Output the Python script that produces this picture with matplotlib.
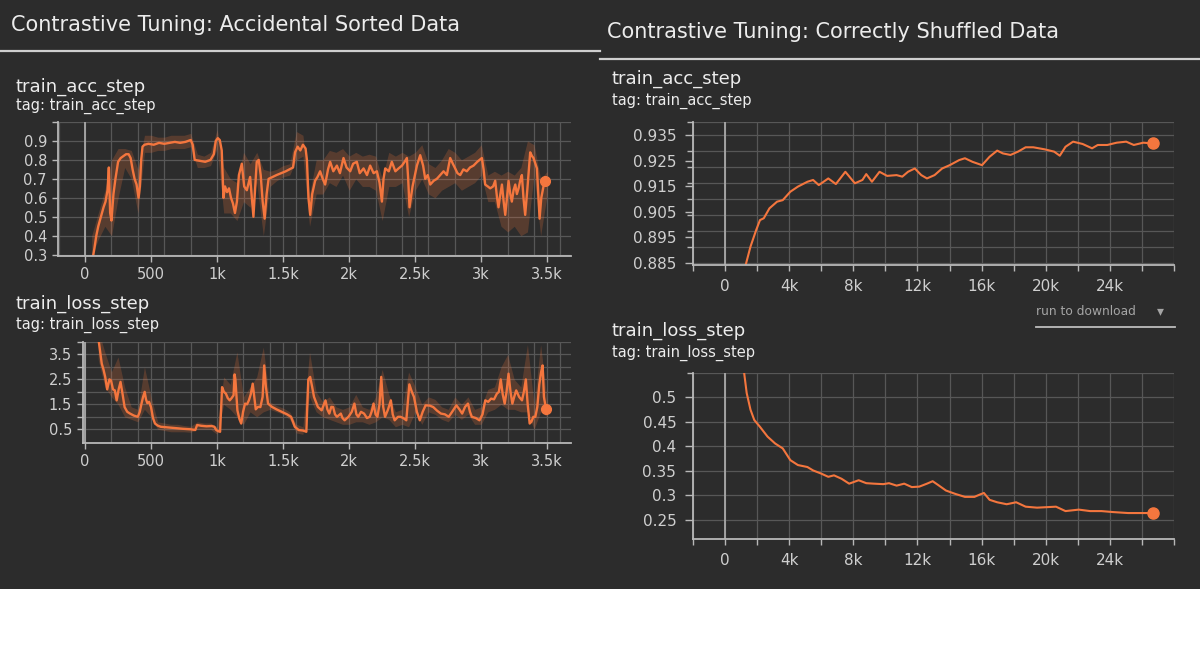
import matplotlib
matplotlib.use("Agg")
import matplotlib.pyplot as plt
from matplotlib.patches import Rectangle
from matplotlib.lines import Line2D
import numpy as np

# ---------------- data ----------------
left_x_ticks = [0, 500, 1000, 1500, 2000, 2500, 3000, 3500]
left_x_labels = ['0', '500', '1k', '1.5k', '2k', '2.5k', '3k', '3.5k']
right_x_ticks = [0, 4000, 8000, 12000, 16000, 20000, 24000]
right_x_labels = ['0', '4k', '8k', '12k', '16k', '20k', '24k']

acc_sorted_yticks = [0.3, 0.4, 0.5, 0.6, 0.7, 0.8, 0.9]
acc_sorted_ylabels = ['0.3', '0.4', '0.5', '0.6', '0.7', '0.8', '0.9']
loss_sorted_yticks = [0.5, 1.5, 2.5, 3.5]
loss_sorted_ylabels = ['0.5', '1.5', '2.5', '3.5']
acc_shuf_yticks = [0.885, 0.895, 0.905, 0.915, 0.925, 0.935]
acc_shuf_ylabels = ['0.885', '0.895', '0.905', '0.915', '0.925', '0.935']
loss_shuf_yticks = [0.25, 0.30, 0.35, 0.40, 0.45, 0.50]
loss_shuf_ylabels = ['0.25', '0.3', '0.35', '0.4', '0.45', '0.5']

# Accidental sorted data: train_acc_step (smoothed)
acc_sorted_steps = [55, 70, 85, 100, 120, 140, 155, 170, 180, 190, 200, 215, 230, 250, 270, 290, 310, 330,
                    345, 360, 375, 390, 405, 415, 425, 435, 450, 480, 520, 560, 600, 640, 680, 720, 760, 800,
                    815, 830, 870, 910, 950, 975, 990, 1005, 1020, 1035, 1048, 1060, 1075, 1090, 1105, 1120,
                    1135, 1150, 1165, 1187, 1205, 1225, 1250, 1275, 1300, 1315, 1330, 1345, 1360, 1375, 1390,
                    1450, 1520, 1575, 1590, 1610, 1630, 1650, 1670, 1680, 1692, 1705, 1720, 1742, 1760, 1780,
                    1800, 1818, 1840, 1856, 1880, 1907, 1930, 1957, 1980, 2008, 2030, 2058, 2080, 2109, 2135,
                    2159, 2185, 2210, 2230, 2248, 2260, 2273, 2300, 2323, 2350, 2374, 2400, 2420, 2437, 2447,
                    2457, 2480, 2513, 2538, 2560, 2576, 2595, 2614, 2640, 2664, 2690, 2715, 2740, 2765, 2785,
                    2803, 2820, 2841, 2865, 2891, 2915, 2942, 2970, 3005, 3018, 3030, 3050, 3068, 3090, 3106,
                    3120, 3131, 3145, 3157, 3170, 3182, 3195, 3207, 3220, 3232, 3245, 3258, 3270, 3283, 3295,
                    3308, 3320, 3333, 3350, 3371, 3385, 3396, 3410, 3422, 3432, 3442, 3455, 3480]
acc_sorted_vals = [0.27, 0.33, 0.40, 0.45, 0.50, 0.55, 0.58, 0.64, 0.76, 0.52, 0.48, 0.62, 0.70, 0.79, 0.81,
                   0.82, 0.83, 0.83, 0.81, 0.75, 0.70, 0.67, 0.60, 0.66, 0.80, 0.87, 0.88, 0.885, 0.88, 0.89,
                   0.885, 0.89, 0.895, 0.89, 0.895, 0.905, 0.88, 0.80, 0.795, 0.79, 0.80, 0.83, 0.90, 0.915,
                   0.905, 0.85, 0.60, 0.66, 0.63, 0.65, 0.60, 0.57, 0.52, 0.58, 0.72, 0.78, 0.66, 0.64, 0.71,
                   0.50, 0.79, 0.80, 0.72, 0.58, 0.49, 0.62, 0.70, 0.72, 0.74, 0.76, 0.84, 0.87, 0.85, 0.88,
                   0.86, 0.80, 0.60, 0.51, 0.62, 0.69, 0.71, 0.74, 0.70, 0.67, 0.75, 0.79, 0.74, 0.77, 0.73,
                   0.81, 0.76, 0.74, 0.78, 0.79, 0.73, 0.755, 0.72, 0.77, 0.73, 0.74, 0.68, 0.58, 0.70, 0.755,
                   0.74, 0.79, 0.74, 0.755, 0.77, 0.79, 0.81, 0.70, 0.55, 0.66, 0.77, 0.825, 0.77, 0.70, 0.72,
                   0.67, 0.69, 0.70, 0.72, 0.74, 0.72, 0.81, 0.78, 0.755, 0.73, 0.72, 0.75, 0.74, 0.76, 0.77,
                   0.79, 0.81, 0.75, 0.67, 0.66, 0.65, 0.66, 0.69, 0.60, 0.55, 0.62, 0.67, 0.58, 0.51, 0.60,
                   0.69, 0.62, 0.58, 0.64, 0.67, 0.62, 0.65, 0.69, 0.72, 0.60, 0.51, 0.65, 0.84, 0.82, 0.81,
                   0.78, 0.755, 0.62, 0.49, 0.60, 0.69]

# raw (unsmoothed) spread, every 50 steps
band_steps = [50, 100, 150, 200, 250, 300, 350, 400, 450, 500, 550, 600, 650, 700, 750, 800, 850, 900, 950,
              1000, 1050, 1100, 1150, 1200, 1250, 1300, 1350, 1400, 1450, 1500, 1550, 1600, 1650, 1700, 1750,
              1800, 1850, 1900, 1950, 2000, 2050, 2100, 2150, 2200, 2250, 2300, 2350, 2400, 2450, 2500, 2550,
              2600, 2650, 2700, 2750, 2800, 2850, 2900, 2950, 3000, 3050, 3100, 3150, 3200, 3250, 3300, 3350,
              3400, 3450, 3500]
acc_sorted_lo = [0.29, 0.38, 0.45, 0.40, 0.60, 0.76, 0.70, 0.52, 0.84, 0.84, 0.85, 0.85, 0.86, 0.86, 0.86,
                 0.87, 0.76, 0.76, 0.77, 0.86, 0.52, 0.52, 0.48, 0.58, 0.55, 0.68, 0.40, 0.66, 0.69, 0.71,
                 0.72, 0.80, 0.82, 0.45, 0.62, 0.62, 0.68, 0.66, 0.72, 0.64, 0.70, 0.66, 0.66, 0.64, 0.48,
                 0.66, 0.66, 0.68, 0.50, 0.64, 0.70, 0.62, 0.60, 0.64, 0.66, 0.68, 0.64, 0.66, 0.68, 0.72,
                 0.58, 0.58, 0.45, 0.42, 0.45, 0.40, 0.42, 0.72, 0.40, 0.62]
acc_sorted_hi = [0.40, 0.52, 0.64, 0.80, 0.86, 0.86, 0.85, 0.75, 0.93, 0.93, 0.92, 0.92, 0.93, 0.93, 0.93,
                 0.94, 0.83, 0.82, 0.84, 0.96, 0.76, 0.70, 0.68, 0.84, 0.78, 0.84, 0.75, 0.74, 0.75, 0.77,
                 0.78, 0.95, 0.93, 0.62, 0.80, 0.80, 0.85, 0.84, 0.86, 0.82, 0.84, 0.82, 0.83, 0.82, 0.70,
                 0.84, 0.82, 0.84, 0.82, 0.84, 0.88, 0.78, 0.76, 0.80, 0.86, 0.84, 0.80, 0.82, 0.84, 0.88,
                 0.72, 0.74, 0.72, 0.74, 0.72, 0.76, 0.90, 0.88, 0.70, 0.74]

# Accidental sorted data: train_loss_step (smoothed)
loss_sorted_steps = [100, 115, 127, 140, 153, 168, 185, 197, 212, 226, 240, 255, 269, 285, 300, 320, 341, 370,
                     400, 415, 428, 440, 452, 462, 472, 485, 500, 515, 530, 550, 574, 620, 680, 740, 800, 835,
                     849, 880, 920, 960, 980, 994, 1010, 1023, 1038, 1052, 1067, 1081, 1096, 1110, 1125, 1133,
                     1139, 1154, 1170, 1183, 1197, 1212, 1227, 1241, 1255, 1270, 1282, 1293, 1310, 1328, 1345,
                     1357, 1370, 1386, 1415, 1450, 1490, 1530, 1560, 1575, 1589, 1618, 1650, 1676, 1691, 1705,
                     1720, 1734, 1763, 1792, 1821, 1835, 1850, 1865, 1879, 1893, 1908, 1937, 1950, 1966, 1995,
                     2020, 2040, 2055, 2069, 2090, 2113, 2135, 2156, 2170, 2185, 2200, 2214, 2230, 2243, 2258,
                     2272, 2295, 2316, 2330, 2345, 2370, 2389, 2410, 2433, 2445, 2456, 2475, 2491, 2513, 2535,
                     2557, 2579, 2610, 2637, 2665, 2695, 2725, 2754, 2780, 2812, 2835, 2856, 2878, 2900, 2915,
                     2929, 2960, 2987, 3010, 3031, 3053, 3075, 3097, 3119, 3134, 3148, 3163, 3178, 3192, 3207,
                     3222, 3236, 3250, 3265, 3287, 3309, 3323, 3338, 3352, 3367, 3380, 3395, 3410, 3425, 3440,
                     3454, 3465, 3475, 3490]
loss_sorted_vals = [4.2, 3.6, 3.13, 2.9, 2.6, 2.1, 2.5, 2.46, 2.1, 2.06, 1.66, 2.1, 2.4, 1.9, 1.39, 1.2, 1.13,
                    1.05, 1.0, 1.2, 1.53, 1.8, 2.0, 1.7, 1.55, 1.6, 1.39, 0.95, 0.73, 0.65, 0.6, 0.58, 0.55,
                    0.52, 0.5, 0.47, 0.67, 0.64, 0.62, 0.63, 0.6, 0.47, 0.42, 0.4, 2.19, 2.0, 1.93, 1.75, 1.66,
                    1.75, 1.86, 2.7, 2.5, 1.26, 0.9, 0.73, 1.2, 1.53, 1.5, 1.66, 1.9, 2.33, 1.8, 1.3, 1.4, 1.39,
                    1.8, 3.06, 2.2, 1.53, 1.4, 1.3, 1.2, 1.1, 1.0, 0.8, 0.6, 0.47, 0.45, 0.4, 2.5, 2.6, 2.2,
                    1.8, 1.4, 1.26, 1.66, 1.3, 1.13, 1.4, 1.39, 1.1, 1.0, 1.13, 0.95, 0.86, 1.0, 1.2, 1.53, 1.1,
                    1.0, 1.2, 1.13, 0.95, 1.0, 1.2, 1.53, 1.1, 1.0, 1.5, 2.6, 1.4, 1.0, 1.3, 1.66, 1.1, 0.86,
                    1.0, 1.0, 0.95, 0.86, 1.6, 2.3, 2.0, 1.8, 1.2, 0.86, 1.2, 1.46, 1.45, 1.39, 1.25, 1.13, 1.1,
                    1.0, 1.2, 1.46, 1.3, 1.13, 1.4, 1.53, 1.2, 1.0, 0.95, 0.86, 1.1, 1.66, 1.6, 1.73, 1.7, 1.93,
                    2.0, 2.5, 1.9, 1.53, 2.0, 2.73, 2.0, 1.53, 1.8, 2.06, 1.8, 1.66, 2.0, 2.5, 1.5, 0.73, 0.8,
                    1.0, 1.0, 1.4, 2.3, 2.8, 3.06, 1.8, 1.33]
loss_sorted_lo = [3.3, 2.2, 1.8, 1.5, 1.0, 0.9, 0.8, 1.3, 1.0, 0.5, 0.45, 0.4, 0.4, 0.4, 0.38, 0.5, 0.5, 0.5,
                  0.3, 1.5, 1.3, 1.0, 0.7, 1.2, 1.0, 1.2, 1.3, 1.2, 1.1, 0.9, 0.35, 0.3, 1.8, 1.2, 1.0, 0.9,
                  0.8, 0.7, 0.7, 0.8, 0.8, 0.7, 0.8, 1.0, 0.9, 0.6, 0.7, 0.6, 1.2, 0.7, 1.2, 1.1, 0.9, 0.8,
                  1.1, 0.9, 1.1, 0.7, 0.7, 1.2, 1.3, 1.5, 1.3, 1.3, 1.2, 1.2, 0.5, 1.2, 1.0]
loss_sorted_hi = [4.5, 3.6, 2.8, 3.4, 2.2, 1.4, 1.3, 3.0, 1.8, 0.8, 0.75, 0.7, 0.7, 0.65, 0.62, 0.8, 0.75,
                  0.75, 0.6, 2.6, 2.3, 3.6, 1.8, 2.2, 2.6, 3.8, 1.6, 1.45, 1.35, 1.2, 0.7, 0.6, 3.6, 2.0, 1.6,
                  1.8, 1.4, 1.3, 1.4, 1.9, 1.4, 1.3, 1.8, 2.9, 1.9, 1.2, 1.3, 2.8, 2.2, 1.5, 1.8, 1.7, 1.4,
                  1.3, 1.8, 1.5, 1.8, 1.3, 1.4, 2.1, 2.2, 3.0, 3.5, 2.5, 2.2, 3.9, 1.5, 3.9, 1.6]
loss_band_steps = band_steps[1:]

# Correctly shuffled data: train_acc_step
acc_shuf_steps = [1302, 1586, 1941, 2178, 2414, 2769, 3243, 3598, 4071, 4544, 5136, 5491, 5846, 6438, 6911,
                  7503, 8095, 8568, 8806, 9160, 9634, 10107, 10699, 11054, 11409, 11835, 12238, 12592, 13066,
                  13540, 14013, 14605, 14960, 15433, 16025, 16499, 16972, 17327, 17800, 18274, 18747, 19221,
                  19931, 20522, 20877, 21232, 21706, 22297, 22889, 23244, 23836, 24428, 25019, 25493, 26085,
                  26700]
acc_shuf_vals = [0.8845, 0.8913, 0.8978, 0.9017, 0.9024, 0.9063, 0.9089, 0.9095, 0.9128, 0.9148, 0.9167,
                 0.9174, 0.9154, 0.9180, 0.9158, 0.9206, 0.9161, 0.9174, 0.9197, 0.9167, 0.9206, 0.9190,
                 0.9193, 0.9187, 0.9206, 0.9219, 0.9193, 0.9180, 0.9193, 0.9219, 0.9232, 0.9252, 0.9259,
                 0.9245, 0.9232, 0.9265, 0.9289, 0.9278, 0.9272, 0.9285, 0.9302, 0.9302, 0.9294, 0.9285,
                 0.9269, 0.9304, 0.9324, 0.9315, 0.9298, 0.9311, 0.9311, 0.9320, 0.9324, 0.9311, 0.9320,
                 0.9317]

# Correctly shuffled data: train_loss_step
loss_shuf_steps = [1183, 1349, 1586, 1822, 2178, 2651, 3124, 3598, 4071, 4544, 5136, 5491, 5965, 6438, 6793,
                   7266, 7740, 8332, 8806, 9279, 9870, 10225, 10699, 11172, 11646, 12119, 12592, 12947, 13302,
                   13776, 14368, 14960, 15551, 15906, 16143, 16499, 16972, 17564, 18155, 18747, 19457, 20049,
                   20641, 21232, 22061, 22771, 23481, 24191, 25138, 25848, 26700]
loss_shuf_vals = [0.552, 0.509, 0.475, 0.454, 0.440, 0.420, 0.406, 0.396, 0.372, 0.362, 0.358, 0.351, 0.345,
                  0.338, 0.341, 0.334, 0.324, 0.331, 0.325, 0.324, 0.323, 0.325, 0.320, 0.324, 0.317, 0.318,
                  0.324, 0.329, 0.321, 0.310, 0.303, 0.297, 0.297, 0.302, 0.305, 0.291, 0.286, 0.282, 0.286,
                  0.277, 0.275, 0.276, 0.277, 0.268, 0.271, 0.268, 0.268, 0.266, 0.264, 0.264, 0.264]

# ---------------- style ----------------
BG = '#2c2c2c'
ORANGE = '#f4763e'
GRID = '#575757'
AXIS = '#b8b8b8'
TICKC = '#cfcfcf'
TEXT = '#ececec'
W, H = 1200, 670

fig = plt.figure(figsize=(12, 6.7), dpi=100)
fig.patch.set_facecolor('white')
fig.patches.append(Rectangle((0, 1 - 589 / H), 1, 589 / H, transform=fig.transFigure,
                             facecolor=BG, edgecolor='none', zorder=-10))


def fx(x):
    return x / W


def fy(y):
    return 1 - y / H


def axes_px(x0, y0, x1, y1):
    return fig.add_axes([fx(x0), fy(y1), (x1 - x0) / W, (y1 - y0) / H])


def style(ax, xlim, ylim, xt, xl, xgrid, yt, yl, ygrid, xminor_ticks=False):
    ax.set_facecolor(BG)
    ax.set_xlim(*xlim)
    ax.set_ylim(*ylim)
    for s in ['top', 'right']:
        ax.spines[s].set_visible(False)
    for s in ['left', 'bottom']:
        ax.spines[s].set_color(AXIS)
        ax.spines[s].set_linewidth(1.3)
        ax.spines[s].set_zorder(5)
    for g in xgrid:
        ax.axvline(g, color=GRID, lw=0.9, zorder=0)
    for g in ygrid:
        ax.axhline(g, color=GRID, lw=0.9, zorder=0)
    ax.axvline(0, color='#a9a9a9', lw=1.3, zorder=1)
    ax.set_xticks(xt)
    ax.set_xticklabels(xl)
    ax.set_yticks(yt)
    ax.set_yticklabels(yl)
    if xminor_ticks:
        ax.set_xticks([g for g in xgrid if g not in xt], minor=True)
    ax.set_yticks([g for g in ygrid if g not in yt], minor=True)
    ax.tick_params(axis='both', which='both', colors=AXIS, labelcolor=TICKC, labelsize=10.5,
                   length=4, width=1.0, pad=4)


# ---- left top ----
ax1 = axes_px(58, 122, 571, 256)
grid_lt = sorted(set(list(range(-200, 3700, 200)) + left_x_ticks))
style(ax1, (-205, 3680), (0.293, 1.0), left_x_ticks, left_x_labels, grid_lt,
      acc_sorted_yticks, acc_sorted_ylabels, [0.3, 0.4, 0.5, 0.6, 0.7, 0.8, 0.9, 0.999])
ax1.fill_between(band_steps, acc_sorted_lo, acc_sorted_hi, color=ORANGE, alpha=0.22, lw=0, zorder=2)
ax1.plot(acc_sorted_steps, acc_sorted_vals, color=ORANGE, lw=1.7, zorder=3, solid_joinstyle='round')
ax1.plot(acc_sorted_steps[-1], acc_sorted_vals[-1], 'o', color=ORANGE, ms=7, zorder=4, clip_on=False)

# ---- left bottom ----
ax2 = axes_px(83, 342, 571, 443)
grid_lb = sorted(set(list(range(0, 3700, 200)) + left_x_ticks))
style(ax2, (-15, 3680), (-0.05, 4.0), left_x_ticks, left_x_labels, grid_lb,
      loss_sorted_yticks, loss_sorted_ylabels, [0.5, 1.0, 1.5, 2.0, 2.5, 3.0, 3.5, 3.99])
ax2.fill_between(loss_band_steps, loss_sorted_lo, loss_sorted_hi, color=ORANGE, alpha=0.22, lw=0, zorder=2)
ax2.plot(loss_sorted_steps, loss_sorted_vals, color=ORANGE, lw=1.7, zorder=3, solid_joinstyle='round')
ax2.plot(loss_sorted_steps[-1], loss_sorted_vals[-1], 'o', color=ORANGE, ms=7, zorder=4, clip_on=False)

# ---- right top ----
ax3 = axes_px(693, 122, 1174, 265)
grid_r = list(range(-2000, 28001, 2000))
ygrid3 = list(np.linspace(0.885, 0.935, 9)) + [0.9400]
style(ax3, (-2000, 28000), (0.8841, 0.9401), right_x_ticks, right_x_labels, grid_r,
      acc_shuf_yticks, acc_shuf_ylabels, ygrid3, xminor_ticks=True)
ax3.plot(acc_shuf_steps, acc_shuf_vals, color=ORANGE, lw=1.5, zorder=3)
ax3.plot(acc_shuf_steps[-1], acc_shuf_vals[-1], 'o', color=ORANGE, ms=8, zorder=4, clip_on=False)

# ---- right bottom ----
ax4 = axes_px(693, 373, 1174, 539)
ygrid4 = [0.25, 0.30, 0.35, 0.40, 0.45, 0.50, 0.549]
style(ax4, (-2000, 28000), (0.211, 0.55), right_x_ticks, right_x_labels, grid_r,
      loss_shuf_yticks, loss_shuf_ylabels, ygrid4, xminor_ticks=True)
ax4.plot(loss_shuf_steps, loss_shuf_vals, color=ORANGE, lw=1.5, zorder=3)
ax4.plot(loss_shuf_steps[-1], loss_shuf_vals[-1], 'o', color=ORANGE, ms=8, zorder=4, clip_on=False)
for a in (ax3, ax4):
    a.tick_params(labelsize=11, pad=6)
    a.tick_params(axis='y', length=6)

# ---------------- texts ----------------
fig.text(fx(11), fy(25), 'Contrastive Tuning: Accidental Sorted Data', fontsize=15, color=TEXT, va='center')
fig.text(fx(607), fy(32), 'Contrastive Tuning: Correctly Shuffled Data', fontsize=15, color=TEXT, va='center')
fig.add_artist(Line2D([0, 0.5], [fy(51), fy(51)], color='#cfcfcf', lw=1.6, transform=fig.transFigure))
fig.add_artist(Line2D([0.5, 1.0], [fy(59), fy(59)], color='#cfcfcf', lw=1.6, transform=fig.transFigure))

panel_titles = [(16, 87, 'train_acc_step', 106, 'tag: train_acc_step'),
                (16, 304, 'train_loss_step', 325, 'tag: train_loss_step'),
                (612, 79, 'train_acc_step', 101, 'tag: train_acc_step'),
                (612, 331, 'train_loss_step', 353, 'tag: train_loss_step')]
for x, y1, t1, y2, t2 in panel_titles:
    fig.text(fx(x), fy(y1), t1, fontsize=13, color=TEXT, va='center')
    fig.text(fx(x), fy(y2), t2, fontsize=10.5, color=TEXT, va='center')

fig.text(fx(1036), fy(311), 'run to download', fontsize=8.8, color='#a5a5a5', va='center')
fig.text(fx(1160), fy(311), '\u25BE', fontsize=10, color='#a5a5a5', va='center', ha='center')
fig.add_artist(Line2D([fx(1036), fx(1175)], [fy(327), fy(327)], color='#bdbdbd', lw=1.3,
                      transform=fig.transFigure))

fig.savefig('out.png', dpi=100, facecolor=fig.get_facecolor())
